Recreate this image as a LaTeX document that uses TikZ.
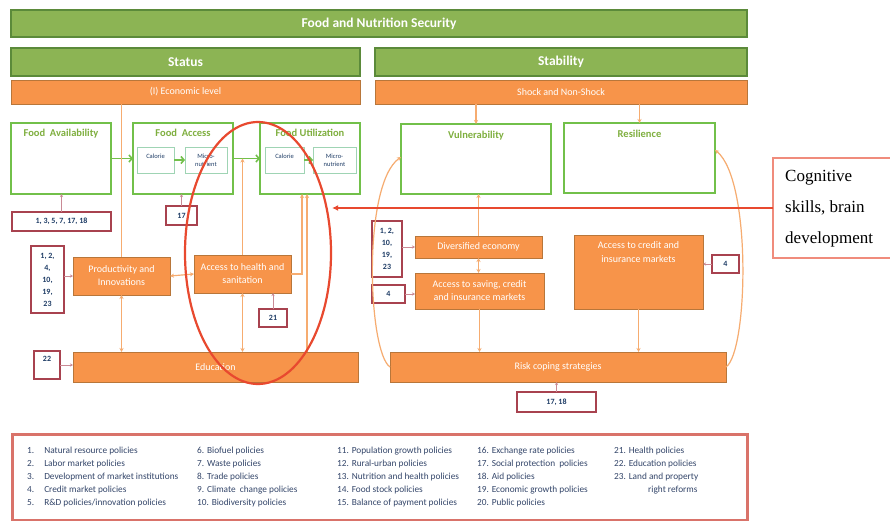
\documentclass[tikz,border=0pt]{standalone}
\usepackage{fontspec}
\setmainfont{Carlito}
\newfontfamily\tnr{Liberation Serif}
\usetikzlibrary{arrows.meta,calc,shapes.geometric}
\definecolor{gfill}{HTML}{8CB454}
\definecolor{gdraw}{HTML}{5B8A3A}
\definecolor{ofill}{HTML}{F7944A}
\definecolor{odraw}{HTML}{B8763A}
\definecolor{gline}{HTML}{72C04A}
\definecolor{gtext}{HTML}{7FAF3F}
\definecolor{iline}{HTML}{9FD4B4}
\definecolor{nline}{HTML}{A8424F}
\definecolor{nline2}{HTML}{C98A95}
\definecolor{nblue}{HTML}{1F3D66}
\definecolor{oline}{HTML}{F6AC70}
\definecolor{redline}{HTML}{E8492F}
\definecolor{cogline}{HTML}{F08C7C}
\definecolor{legline}{HTML}{D9736A}
\definecolor{legtext}{HTML}{34466A}
\tikzset{
 gbar/.style={draw=gdraw, fill=gfill, line width=1.2pt, inner sep=0pt, outer sep=0pt, anchor=north west, text=white, font=\bfseries\fontsize{13.5}{16}\selectfont},
 obar/.style={draw=odraw, fill=ofill, line width=0.8pt, inner sep=0pt, outer sep=0pt, anchor=north west, text=white, font=\fontsize{10}{13}\selectfont, align=center},
 gbox/.style={draw=gline, line width=1.5pt, fill=white, anchor=north west, inner sep=0pt, outer sep=0pt},
 gtitle/.style={text=gtext, font=\bfseries\fontsize{10.5}{12}\selectfont, anchor=north, inner sep=0pt},
 ibox/.style={draw=iline, line width=0.6pt, anchor=north west, inner sep=0pt, outer sep=0pt, font=\fontsize{6.5}{8}\selectfont, text=nblue, align=center},
 nbox/.style={draw=nline, line width=1.6pt, fill=white, anchor=north west, inner sep=0pt, outer sep=0pt, font=\bfseries\fontsize{8}{12}\selectfont, text=nblue, align=center},
 oconn/.style={draw=oline, line width=1.2pt},
 oarr/.style={oconn, -{Stealth[length=4pt,width=4pt]}},
 obarr/.style={oconn, {Stealth[length=4pt,width=4pt]}-{Stealth[length=4pt,width=4pt]}},
 garr/.style={draw=gline, line width=1.6pt, -{Straight Barb[length=3pt,width=7pt]}},
 narr/.style={draw=nline2, line width=0.8pt, -{Stealth[length=3pt,width=3pt]}},
 legcol/.style={anchor=north west, inner sep=0pt, text=legtext, font=\fontsize{9.3}{13}\selectfont, align=left},
}
\begin{document}
\begin{tikzpicture}[x=1pt,y=-1pt]
\useasboundingbox[fill=white] (0,0) rectangle (890,521);
% green bars
\node[gbar, minimum width=736, minimum height=27] (fns) at (11,10) {Food and Nutrition Security};
\node[gbar, minimum width=349, minimum height=28] (st) at (11,48) {Status};
\node[gbar, minimum width=372, minimum height=28] (sb) at (375,48) {Stability};
% orange top bars
\node[obar, minimum width=349, minimum height=24] (oL) at (11,80) {(I) Economic level};
\node[obar, minimum width=372, minimum height=24] (oR) at (375,80) {Shock and Non-Shock};
% status green boxes
\node[gbox, minimum width=100, minimum height=71] (fa) at (11,123) {};
\node[gtitle] (fat) at ([yshift=-6pt]fa.north) {Food \ Availability};
\node[gbox, minimum width=100, minimum height=71] (fac) at (133,123) {};
\node[gtitle] (fact) at ([yshift=-6pt]fac.north) {Food \ Access};
\node[ibox, minimum width=37, minimum height=26] (cal1) at (137,147) {Calorie\\\mbox{}};
\node[ibox, minimum width=42, minimum height=26] (mic1) at (185,147) {Micro-\\nutrient};
\node[gbox, minimum width=100, minimum height=71] (fu) at (260,123) {};
\node[gtitle] (fut) at ([yshift=-6pt]fu.north) {Food Utilization};
\node[ibox, minimum width=39, minimum height=26] (cal2) at (265,147) {Calorie\\\mbox{}};
\node[ibox, minimum width=43, minimum height=26] (mic2) at (313,147) {Micro-\\nutrient};
% stability green boxes
\node[gbox, minimum width=150, minimum height=70] (vul) at (401,124) {};
\node[gtitle] (vult) at ([yshift=-7pt]vul.north) {Vulnerability};
\node[gbox, minimum width=151, minimum height=70] (res) at (564,123) {};
\node[gtitle] (rest) at ([yshift=-7pt]res.north) {Resilience};
% orange inner boxes
\node[obar, minimum width=97, minimum height=38] (eco) at (73,257) {Productivity and\\Innovations};
\node[obar, minimum width=97, minimum height=38] (hl) at (194,255) {Access to health and\\sanitation};
\node[obar, minimum width=285, minimum height=30] (edu) at (73,352) {Education};
\node[obar, minimum width=127, minimum height=22] (div) at (415,236) {Diversified economy};
\node[obar, minimum width=129, minimum height=36] (acc) at (415,273) {Access to saving, credit\\and insurance markets};
\node[obar, minimum width=129, minimum height=74] (big) at (574,235) {};
\node[anchor=north, inner sep=0pt, text=white, font=\fontsize{10}{14}\selectfont, align=center] (bigt) at ([yshift=-6pt]big.north) {Access to credit and\\insurance markets};
\node[obar, minimum width=336, minimum height=30] (risk) at (390,352) {Risk coping strategies};
% number boxes
\node[nbox, minimum width=99, minimum height=19] (nb1) at (12,212) {1, 3, 5, 7, 17, 18};
\node[nbox, minimum width=31, minimum height=19] (nb2) at (166,206) {17};
\node[nbox, minimum width=33, minimum height=67] (nb3) at (31,246) {1, 2,\\4,\\10,\\19,\\23};
\node[nbox, minimum width=28, minimum height=18] (nb4) at (259,309) {21};
\node[nbox, minimum width=26, minimum height=28] (nb5) at (34,351) {};
\node[anchor=north, inner sep=0pt, text=nblue, font=\bfseries\fontsize{8}{12}\selectfont] (nb5t) at ([yshift=-5pt]nb5.north) {22};
\node[nbox, minimum width=30, minimum height=56] (nb6) at (372,221) {1, 2,\\10,\\19,\\23};
\node[nbox, minimum width=33, minimum height=18] (nb7) at (372,285) {4};
\node[nbox, minimum width=27, minimum height=18] (nb8) at (712,255) {4};
\node[nbox, minimum width=79, minimum height=20] (nb9) at (517,392) {17, 18};
% green arrows
\draw[garr] (fa.east) -- (fac.west);
\draw[garr] (fac.east) -- (fu.west);
\draw[garr] (cal1.east) -- (mic1.west);
\draw[garr] (cal2.east) -- (mic2.west);
% orange connectors (status)
\draw[oconn] (eco.north |- oL.south) -- (eco.north);
\draw[obarr] (eco.south) -- (eco.south |- edu.north);
\draw[obarr] (eco.east) -- (hl.west);
\draw[oarr] (hl.north) -- (hl.north |- fac.east);
\draw[obarr] (hl.south) -- (hl.south |- edu.north);
\draw[oarr] (hl.east) -| ([xshift=-8pt]fu.south);
\draw[oarr] ([xshift=-3pt]fu.south |- edu.north) -- ([xshift=-3pt]fu.south);
% orange connectors (stability)
\draw[oarr] (vul.north |- oR.south) -- (vul.north);
\draw[oarr] (res.north |- oR.south) -- (res.north);
\draw[oarr] (div.north) -- (div.north |- vul.south);
\draw[obarr] (div.south) -- (div.south |- acc.north);
\draw[oarr] (acc.south) -- (acc.south |- risk.north);
\draw[oarr] (big.south) -- (big.south |- risk.north);
\draw[oarr] (risk.west) .. controls (368,352) and (362,185) .. ([yshift=2pt]vul.west);
\draw[oarr] (risk.east) .. controls (748,352) and (752,180) .. ([yshift=8pt]res.east);
% number arrows
\draw[narr] (nb1.north) -- (nb1.north |- fa.south);
\draw[narr] (nb2.north) -- (nb2.north |- fac.south);
\draw[narr] (eco.west -| nb3.east) -- (eco.west);
\draw[narr] (nb4.north) -- (nb4.north |- hl.south);
\draw[narr] (nb5.east) -- (nb5.east -| edu.west);
\draw[narr] (div.west -| nb6.east) -- (div.west);
\draw[narr] (nb7.east) -- (nb7.east -| acc.west);
\draw[narr] (nb8.west) -- (nb8.west -| big.east);
\draw[narr] (nb9.north) -- (nb9.north |- risk.south);
% cognitive box
\node[draw=cogline, line width=1.5pt, anchor=north west, minimum width=130, minimum height=100, inner sep=0pt, outer sep=0pt] (cog) at (773,158) {};
\node[anchor=north west, inner sep=0pt, align=left, font=\tnr\fontsize{17}{31}\selectfont] (cogt) at (785,170) {Cognitive\\skills, brain\\development};
% red ellipse and arrow
\node[draw=redline, line width=2.2pt, ellipse, minimum width=146, minimum height=262, inner sep=0pt] (ell) at (258,253) {};
\draw[draw=redline, line width=1.5pt, -{Latex[length=6pt,width=6pt]}] (cog.west) -- (cog.west -| ell.east);
% legend
\node[draw=legline, line width=2.5pt, anchor=north west, minimum width=735, minimum height=86, inner sep=0pt] (leg) at (11,433) {};
\node[legcol] (lc1) at (27,444) {\begin{tabular}{@{}l@{\hspace{10pt}}l@{}}1. & Natural resource policies\\2. & Labor market policies\\3. & Development of market institutions\\4. & Credit market policies\\5. & R\&D policies/innovation policies\end{tabular}};
\node[legcol] (lc2) at (197,447) {6. Biofuel policies\\7. Waste policies\\8. Trade policies\\9. Climate \ change policies\\10. Biodiversity policies};
\node[legcol] (lc3) at (337,447) {11. Population growth policies\\12. Rural-urban policies\\13. Nutrition and health policies\\14. Food stock policies\\15. Balance of payment policies};
\node[legcol] (lc4) at (477,447) {16. Exchange rate policies\\17. Social protection \ policies\\18. Aid policies\\19. Economic growth policies\\20. Public policies};
\node[legcol] (lc5) at (614,447) {21. Health policies\\22. Education policies\\23. Land and property\\\hspace*{34pt}right reforms};
\end{tikzpicture}
\end{document}
